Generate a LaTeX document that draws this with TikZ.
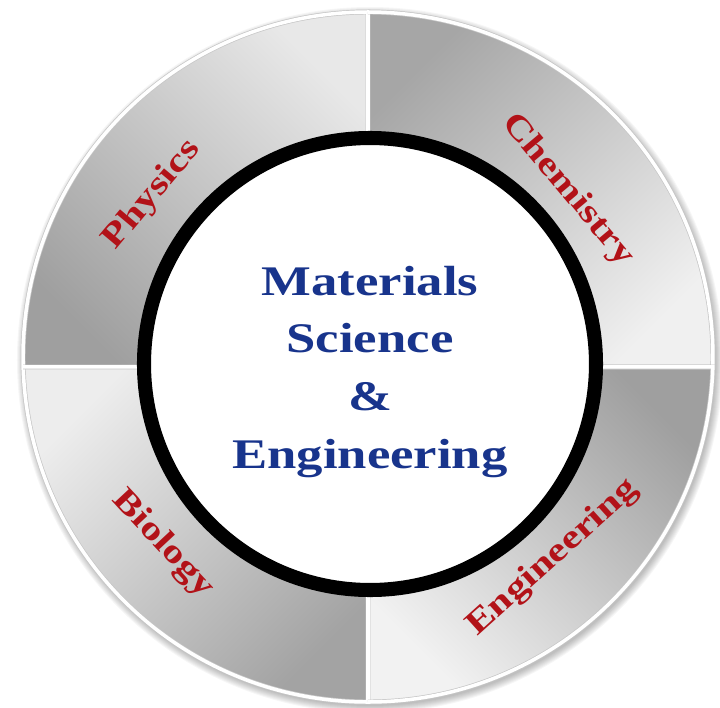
\documentclass[tikz,border=0pt]{standalone}
\usepackage{fontspec}
\setmainfont{Liberation Serif}
\newfontfamily\widefont{Liberation Serif}[FakeStretch=1.25]
\usepackage{tikz}
\definecolor{labred}{RGB}{178,18,24}
\definecolor{coreblue}{RGB}{24,52,140}
\tikzset{
  field/.style={text=labred, font=\widefont\fontsize{19}{21}\selectfont\bfseries},
  core/.style={align=center, text=coreblue, font=\widefont\fontsize{24}{33}\selectfont\bfseries},
  rim/.style={draw=gray!45, line width=0.4pt, double=white, double distance=2pt},
}

\begin{document}
\begin{tikzpicture}[x=0.02cm, y=0.02cm]
    \useasboundingbox (-368,-350) rectangle (352,357);
    \foreach \i in {1,...,8}
        \fill[black, opacity=0.035] (2,-3) circle (345+\i);
    \shade[top color=gray!18, bottom color=gray!75, shading angle=-45]
        (181.66:345) arc[start angle=181.66, end angle=90, radius=345]
        -- (90:220) arc[start angle=90, end angle=182.6, radius=220] -- cycle;
    \shade[top color=gray!12, bottom color=gray!70, shading angle=-135]
        (90:345) arc[start angle=90, end angle=-1.66, radius=345]
        -- (-2.6:220) arc[start angle=-2.6, end angle=90, radius=220] -- cycle;
    \shade[top color=gray!14, bottom color=gray!72, shading angle=45]
        (181.66:345) arc[start angle=181.66, end angle=270, radius=345]
        -- (270:220) arc[start angle=270, end angle=182.6, radius=220] -- cycle;
    \shade[top color=gray!10, bottom color=gray!75, shading angle=135]
        (270:345) arc[start angle=270, end angle=358.34, radius=345]
        -- (357.4:220) arc[start angle=357.4, end angle=270, radius=220] -- cycle;
    \draw[rim] (181.66:345) arc[start angle=181.66, end angle=90, radius=345] -- (90:220);
    \draw[rim] (90:345) arc[start angle=90, end angle=-1.66, radius=345] -- (-2.6:220);
    \draw[rim] (181.66:345) arc[start angle=181.66, end angle=270, radius=345] -- (270:220);
    \draw[rim] (270:345) arc[start angle=270, end angle=358.34, radius=345] -- (357.4:220);
    \draw[rim] (181.66:345) -- (182.6:220);
    \node[draw=black, line width=8pt, fill=white, circle, minimum size=452*0.02cm] (hub) at (2,-7) {};
    \node[core] (mse) at (2,-15) {Materials\\Science\\\&\\Engineering};
    \node[field, rotate=50] (phys) at (-216,162) {Physics};
    \node[field, rotate=-50] (chem) at (200,167) {Chemistry};
    \node[field, rotate=-47] (bio) at (-205,-187) {Biology};
    \node[field, rotate=42] (eng) at (185,-201) {Engineering};
\end{tikzpicture}
\end{document}
